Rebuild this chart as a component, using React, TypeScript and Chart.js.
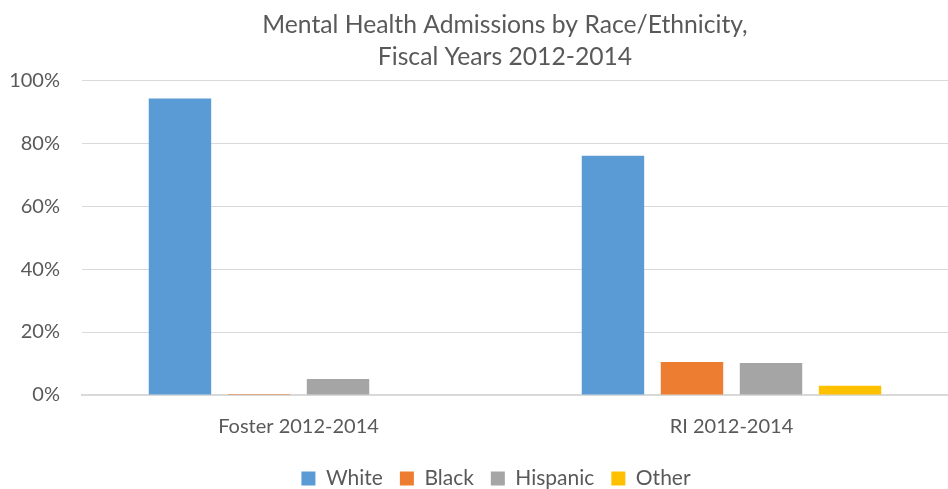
import React, { useEffect, useRef } from "react";
import { Chart, registerables } from "chart.js";

Chart.register(...registerables);

const categories = ["Foster 2012-2014", "RI 2012-2014"];
const white = [94.2, 76.0];
const black = [0.3, 10.5];
const hispanic = [5.1, 10.2];
const other = [0, 2.9];
const titleLines = ["Mental Health Admissions by Race/Ethnicity,", "Fiscal Years 2012-2014"];

const FONT = "Lato, 'Open Sans', sans-serif";
const TEXT = "#595959";

const shiftPlugin = {
  id: "shiftBlocks",
  afterLayout(chart: any) {
    const t = chart.titleBlock;
    if (t) { t.left += 24; t.right += 24; }
    const l = chart.legend;
    if (l) { l.left += 15; l.right += 15; }
  },
};

export default function App() {
  const ref = useRef<HTMLCanvasElement | null>(null);
  useEffect(() => {
    if (!ref.current) return;
    const chart = new Chart(ref.current, {
      type: "bar",
      data: {
        labels: categories,
        datasets: [
          { label: "White", data: white, backgroundColor: "#5B9BD5" },
          { label: "Black", data: black, backgroundColor: "#ED7D31" },
          { label: "Hispanic", data: hispanic, backgroundColor: "#A5A5A5" },
          { label: "Other", data: other, backgroundColor: "#FFC000" },
        ],
      },
      options: {
        animation: false,
        responsive: false,
        maintainAspectRatio: false,
        datasets: { bar: { categoryPercentage: 0.73, barPercentage: 0.79 } },
        layout: { padding: { left: 6, right: -8, top: 0, bottom: -10 } },
        plugins: {
          title: {
            display: true,
            text: titleLines,
            color: TEXT,
            font: { family: FONT, size: 24.7, weight: "normal", lineHeight: 1.3 },
            padding: { top: 9, bottom: 7 },
          },
          legend: {
            position: "bottom",
            labels: {
              color: TEXT,
              font: { family: FONT, size: 21 },
              boxWidth: 14,
              boxHeight: 14,
              padding: 17,
            },
          },
          tooltip: { enabled: false },
        },
        scales: {
          x: {
            grid: { display: false },
            border: { color: "#D9D9D9", width: 2 },
            ticks: { color: TEXT, font: { family: FONT, size: 20 }, padding: 12 },
          },
          y: {
            min: 0,
            max: 100,
            afterFit: (scale: any) => { scale.width = 76; },
            ticks: {
              stepSize: 20,
              color: TEXT,
              font: { family: FONT, size: 20 },
              padding: 22,
              callback: (v: any) => v + "%",
            },
            grid: { color: "#D9D9D9", drawTicks: false },
            border: { display: false },
          },
        },
      },
      plugins: [shiftPlugin],
    });
    return () => chart.destroy();
  }, []);
  return (
    <div style={{ position: "fixed", left: 0, top: 0, width: 948, height: 489, background: "#fff" }}>
      <canvas ref={ref} width={948} height={489} />
    </div>
  );
}
